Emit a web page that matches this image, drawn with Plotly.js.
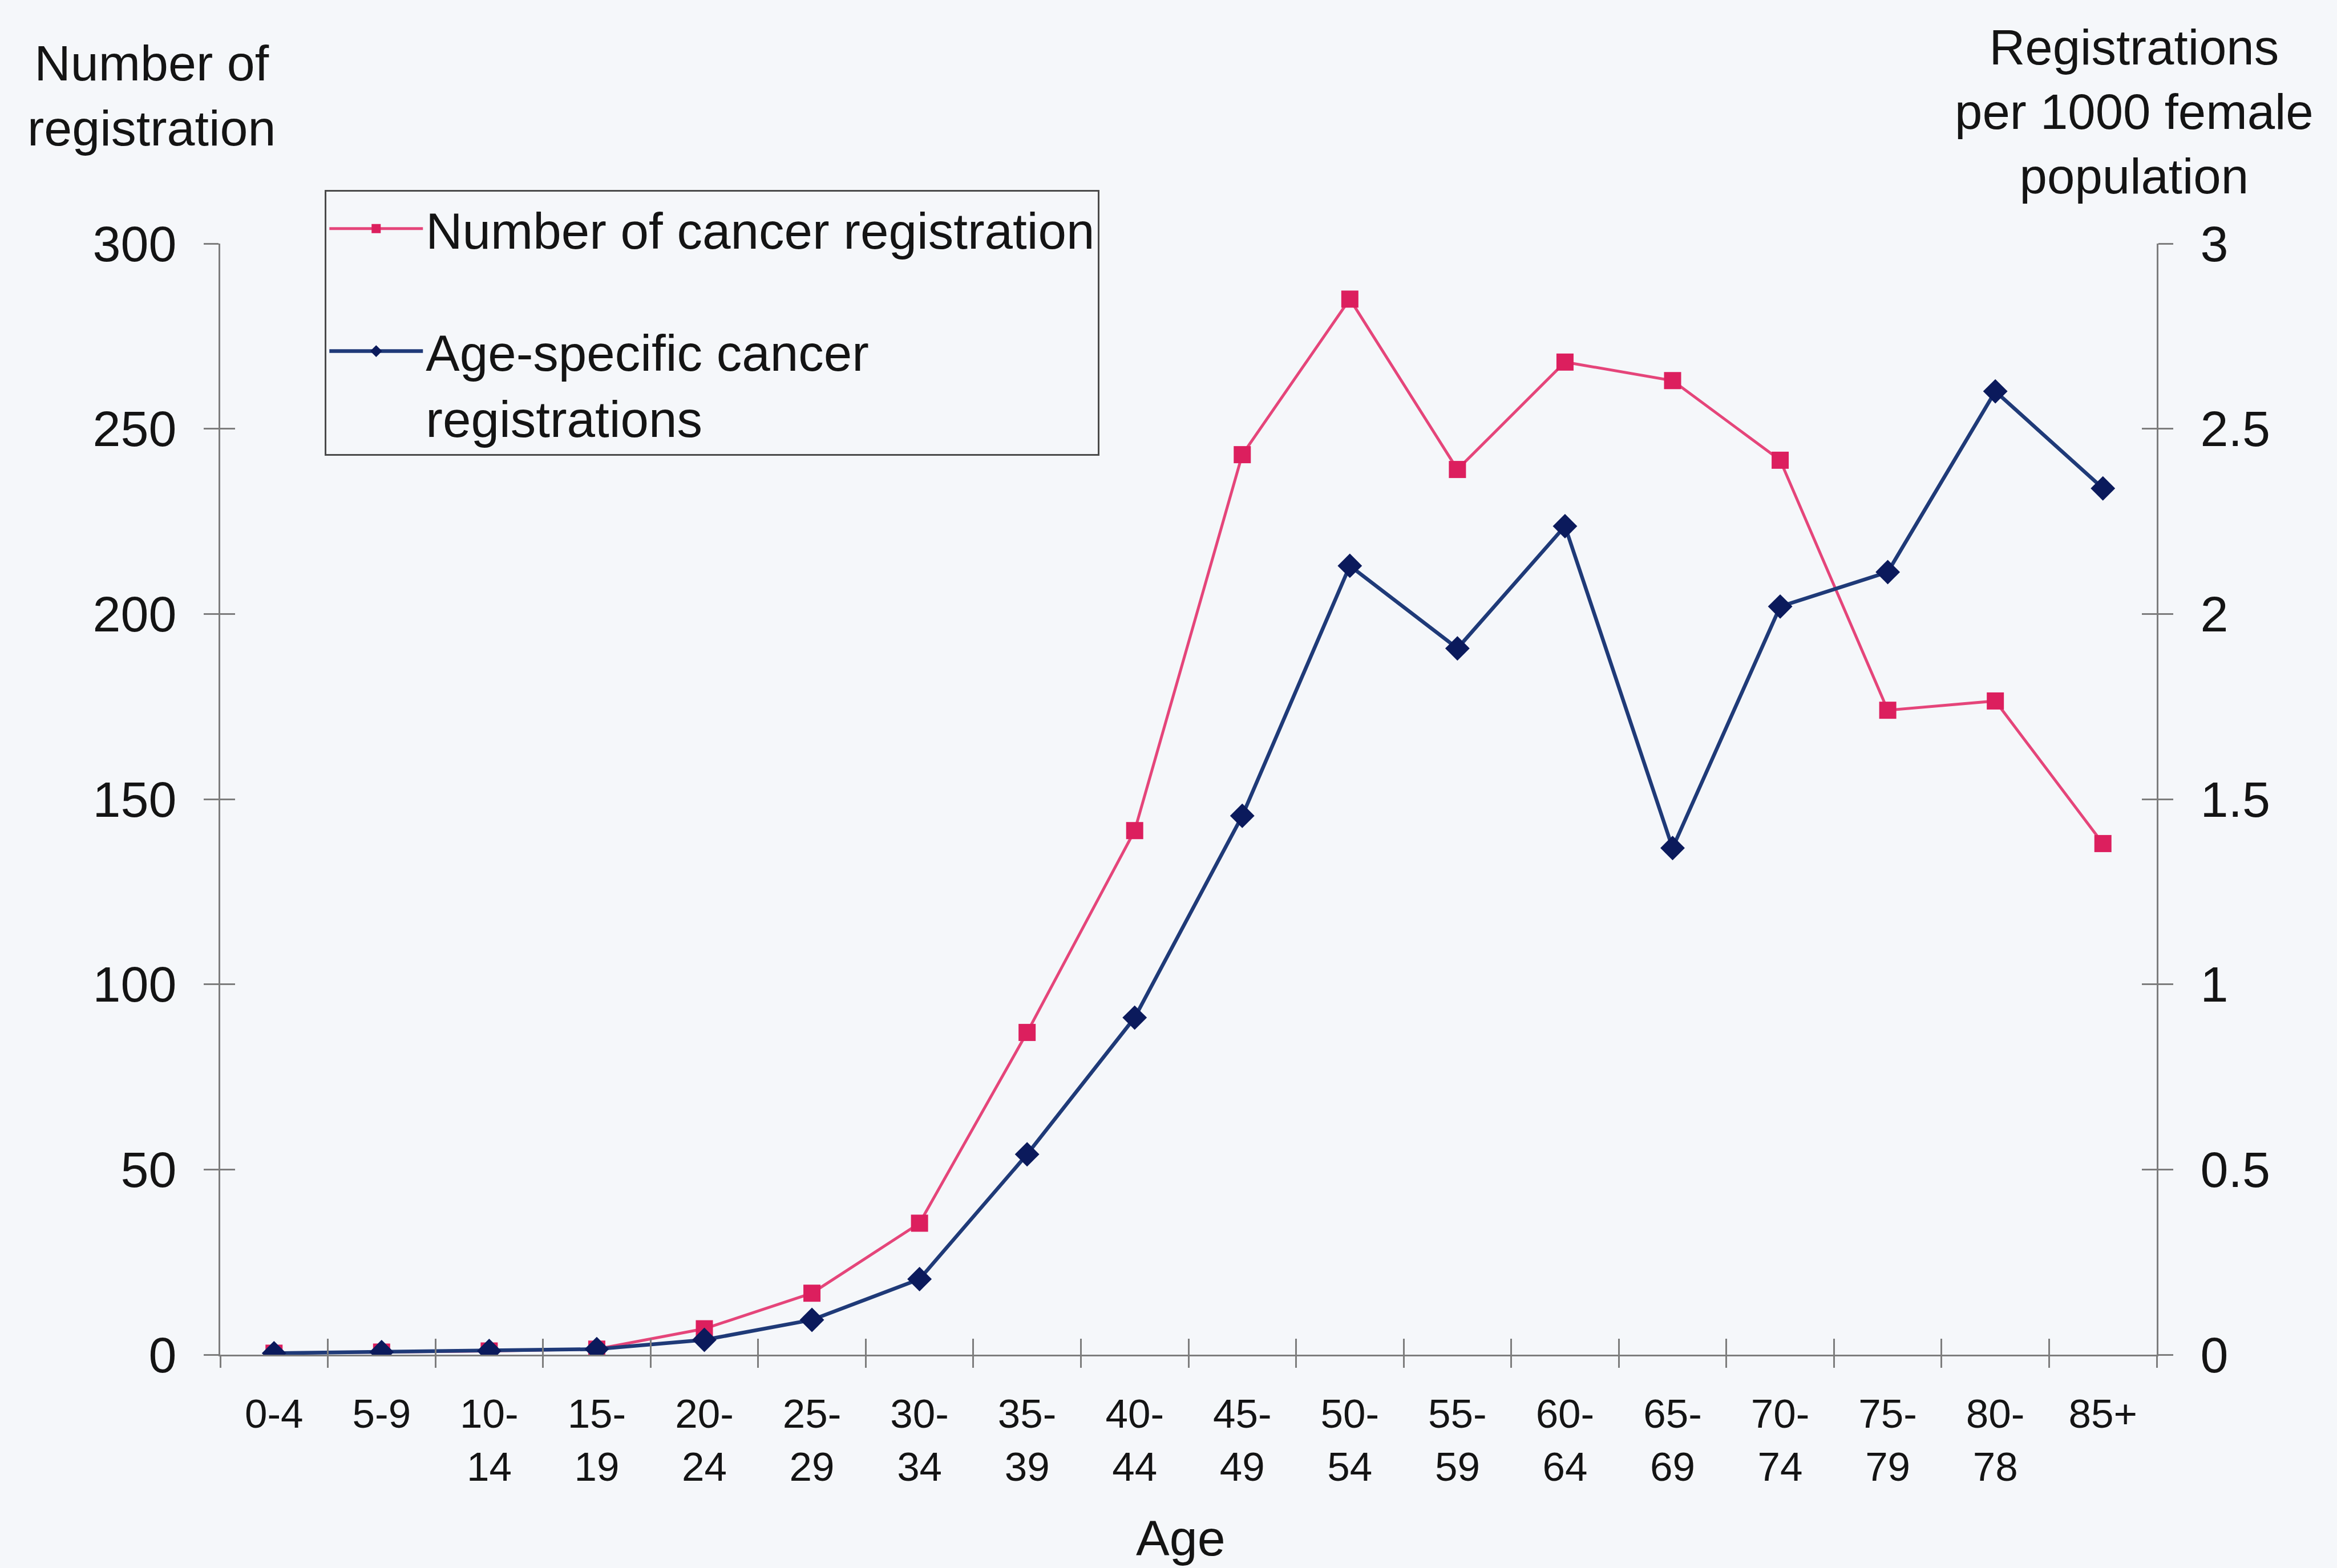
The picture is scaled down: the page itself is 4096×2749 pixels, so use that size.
<!DOCTYPE html>
<html>
<head>
<meta charset="utf-8">
<script src="https://cdn.plot.ly/plotly-3.0.1.min.js"></script>
<style>
  html, body { margin: 0; padding: 0; background: #F5F7FA; }
  #chart { width: 4096px; height: 2749px; }
</style>
</head>
<body>
<div id="chart"></div>
<script>
// Age groups (tick labels as printed, including the "80-78" label)
const ageGroups = ["0-4", "5-9", "10-<br>14", "15-<br>19", "20-<br>24", "25-<br>29", "30-<br>34",
  "35-<br>39", "40-<br>44", "45-<br>49", "50-<br>54", "55-<br>59", "60-<br>64", "65-<br>69",
  "70-<br>74", "75-<br>79", "80-<br>78", "85+"];

// Number of cancer registrations (left axis)
const numberOfRegistrations = [0.4, 0.7, 1, 1.5, 7, 16.6, 35.5, 87, 141.5, 243, 285, 239, 268, 263, 241.5, 174, 176.5, 138];

// Age-specific cancer registrations per 1000 female population (right axis)
const ageSpecificRate = [0.004, 0.007, 0.01, 0.015, 0.04, 0.094, 0.204, 0.541, 0.91, 1.455, 2.13, 1.907, 2.237, 1.368, 2.02, 2.113, 2.601, 2.339];

const leftTicks = [0, 50, 100, 150, 200, 250, 300];
const rightTicks = [0, 0.5, 1, 1.5, 2, 2.5, 3];
const rightTickText = ["0", "0.5", "1", "1.5", "2", "2.5", "3"];

const FONT = '"Liberation Sans", Arial, Helvetica, sans-serif';
const INK = '#141414';
const AXIS = '#7d7d7d';

const traces = [
  {
    x: ageGroups, y: numberOfRegistrations,
    name: 'Number of cancer registration',
    legendgroup: 'a',
    type: 'scatter', mode: 'lines+markers',
    line: { color: '#E5457A', width: 5 },
    marker: { symbol: 'square', size: 30, color: '#DC1F5E' },
    xaxis: 'x', yaxis: 'y'
  },
  {
    x: ageGroups, y: ageSpecificRate,
    name: 'Age-specific cancer<br>registrations',
    legendgroup: 'b',
    type: 'scatter', mode: 'lines+markers',
    line: { color: '#1F3A78', width: 6.5 },
    marker: { symbol: 'diamond', size: 33, color: '#0B1A5C' },
    xaxis: 'x', yaxis: 'y2'
  },
  // empty helper traces so the tick-only overlay axes are drawn (cross ticks)
  { x: [], y: [], type: 'scatter', mode: 'lines', showlegend: false, hoverinfo: 'skip', xaxis: 'x2', yaxis: 'y3' },
  { x: [], y: [], type: 'scatter', mode: 'lines', showlegend: false, hoverinfo: 'skip', xaxis: 'x3', yaxis: 'y4' }
];

const layout = {
  width: 4096, height: 2749,
  margin: { l: 386, r: 316, t: 427, b: 374 },
  paper_bgcolor: '#F5F7FA',
  plot_bgcolor: 'rgba(0,0,0,0)',
  font: { family: FONT, color: INK, size: 84 },
  showlegend: true,
  legend: {
    x: 0.054, y: 1.048, xanchor: 'left', yanchor: 'top',
    bgcolor: 'rgba(0,0,0,0)',
    bordercolor: '#4a4a4a', borderwidth: 3,
    font: { family: FONT, size: 89, color: INK },
    itemwidth: 164,
    valign: 'top',
    tracegroupgap: 96,
    traceorder: 'grouped'
  },
  xaxis: {
    type: 'category',
    range: [-0.5, 17.5],
    showline: true, linecolor: AXIS, linewidth: 3,
    ticks: '', showgrid: false, zeroline: false,
    tickfont: { family: FONT, size: 71, color: INK },
    ticklabelstandoff: 40,
    fixedrange: true
  },
  xaxis2: {
    overlaying: 'x', anchor: 'y',
    range: [-0.5, 17.5], tick0: -0.5, dtick: 1,
    ticks: 'outside', ticklen: 22, tickwidth: 3, tickcolor: AXIS,
    showticklabels: false, showgrid: false, zeroline: false, showline: false
  },
  xaxis3: {
    overlaying: 'x', anchor: 'y',
    range: [-0.5, 17.5], tick0: -0.5, dtick: 1,
    ticks: 'inside', ticklen: 28, tickwidth: 3, tickcolor: AXIS,
    showticklabels: false, showgrid: false, zeroline: false, showline: false
  },
  yaxis: {
    range: [0, 300], tickvals: leftTicks,
    ticks: 'outside', ticklen: 26, tickwidth: 3, tickcolor: AXIS,
    showline: true, linecolor: AXIS, linewidth: 3,
    showgrid: false, zeroline: false,
    tickfont: { family: FONT, size: 88, color: INK },
    ticklabelstandoff: 30
  },
  yaxis2: {
    overlaying: 'y', side: 'right', anchor: 'x',
    range: [0, 3], tickvals: rightTicks, ticktext: rightTickText,
    ticks: 'outside', ticklen: 26, tickwidth: 3, tickcolor: AXIS,
    showline: true, linecolor: AXIS, linewidth: 3,
    showgrid: false, zeroline: false,
    tickfont: { family: FONT, size: 88, color: INK },
    ticklabelstandoff: 30
  },
  yaxis3: {
    overlaying: 'y', side: 'left', anchor: 'x',
    range: [0, 300], tickvals: leftTicks,
    ticks: 'inside', ticklen: 26, tickwidth: 3, tickcolor: AXIS,
    showticklabels: false, showline: false, showgrid: false, zeroline: false
  },
  yaxis4: {
    overlaying: 'y', side: 'right', anchor: 'x',
    range: [0, 3], tickvals: rightTicks,
    ticks: 'inside', ticklen: 26, tickwidth: 3, tickcolor: AXIS,
    showticklabels: false, showline: false, showgrid: false, zeroline: false
  },
  annotations: [
    {
      text: 'Number of<br>registration', xref: 'paper', yref: 'paper',
      x: -0.0355, y: 1.133, xanchor: 'center', yanchor: 'middle',
      showarrow: false, align: 'center',
      font: { family: FONT, size: 88, color: INK }
    },
    {
      text: 'Registrations<br>per 1000 female<br>population', xref: 'paper', yref: 'paper',
      x: 0.9885, y: 1.1186, xanchor: 'center', yanchor: 'middle',
      showarrow: false, align: 'center',
      font: { family: FONT, size: 87, color: INK }
    },
    {
      text: 'Age', xref: 'paper', yref: 'paper',
      x: 0.4959, y: -0.1648, xanchor: 'center', yanchor: 'middle',
      showarrow: false,
      font: { family: FONT, size: 88, color: INK }
    }
  ]
};

Plotly.newPlot('chart', traces, layout, { displayModeBar: false, staticPlot: true });
</script>
</body>
</html>
